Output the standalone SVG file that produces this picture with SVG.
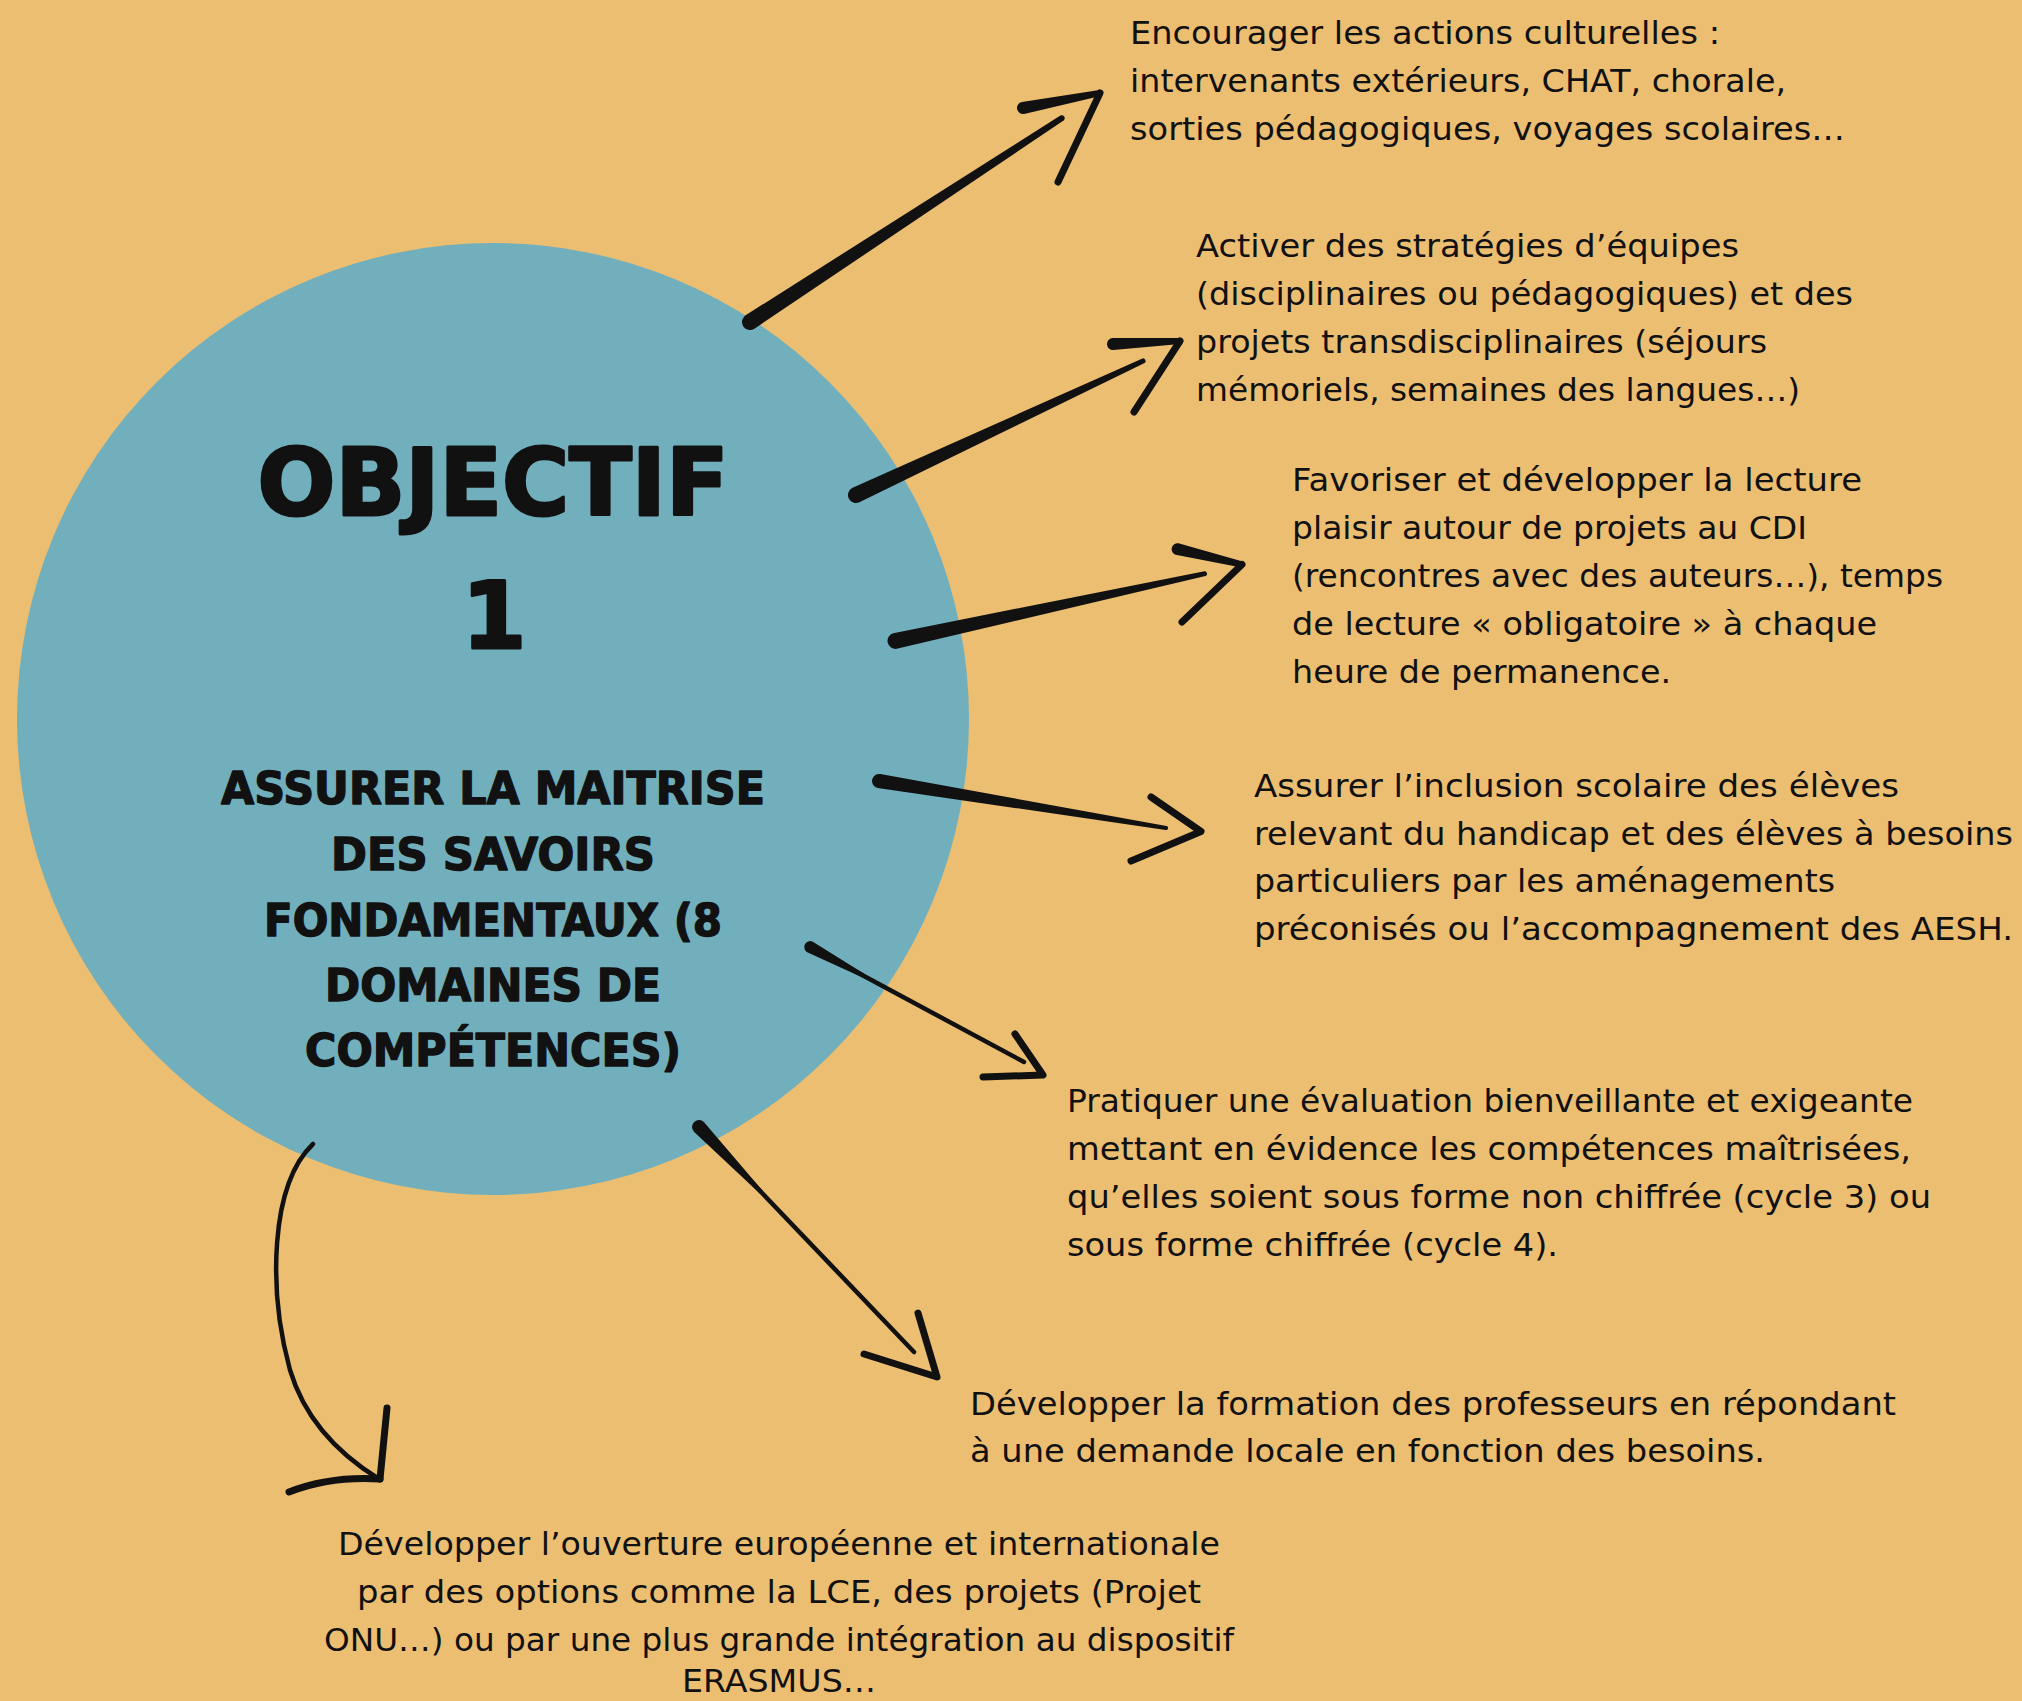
<svg xmlns="http://www.w3.org/2000/svg" width="2022" height="1701" viewBox="0 0 2022 1701">
<style>
.bg{fill:#ECBE72}
.disc{fill:#72AFBC}
.t{font-family:"DejaVu Sans","Liberation Sans",sans-serif;font-size:32px;fill:#111}
.h{font-family:"DejaVu Sans","Liberation Sans",sans-serif;font-weight:bold;fill:#111;stroke:#111;stroke-linejoin:round;text-anchor:middle}
.big{stroke-width:3}
.sub{stroke-width:1.4}
.ink{fill:#111}
.barb{fill:none;stroke:#111;stroke-width:7;stroke-linecap:round;stroke-linejoin:round}
.shaft{fill:none;stroke:#111;stroke-width:4.5;stroke-linecap:round}
.c{text-anchor:middle}
</style>
<rect class="bg" x="0" y="0" width="2022" height="1701"/>

<g id="objectif">
<circle class="disc" cx="493" cy="719" r="476"/>
<text class="h big" x="493" y="515" font-size="93" textLength="471" lengthAdjust="spacingAndGlyphs">OBJECTIF</text>
<text class="h big" x="494" y="648" font-size="93">1</text>
<text class="h sub" x="493" y="804" font-size="45" textLength="544" lengthAdjust="spacingAndGlyphs">ASSURER LA MAITRISE</text>
<text class="h sub" x="493" y="870" font-size="45" textLength="324" lengthAdjust="spacingAndGlyphs">DES SAVOIRS</text>
<text class="h sub" x="493" y="936" font-size="45" textLength="458" lengthAdjust="spacingAndGlyphs">FONDAMENTAUX (8</text>
<text class="h sub" x="493" y="1001" font-size="45" textLength="336" lengthAdjust="spacingAndGlyphs">DOMAINES DE</text>
<text class="h sub" x="493" y="1066" font-size="45" textLength="376" lengthAdjust="spacingAndGlyphs">COMPÉTENCES)</text>
</g>

<g id="connectors">
<path class="ink" d="M745.6,315.3 L1060.4,115.5 A3,3 0 0 1 1063.6,120.5 L754.4,328.7 A8,8 0 0 1 745.6,315.3 Z"/>
<path class="ink" d="M1021.9,102.1 L1099.4,90.1 A3,3 0 0 1 1100.6,95.9 L1024.1,113.9 A6,6 0 0 1 1021.9,102.1 Z"/>
<path class="barb" stroke-width="6" d="M1100,93 L1058,182"/>

<path class="ink" d="M852.6,487.75 L1141.9,358.7 A2.5,2.5 0 0 1 1144.1,363.3 L859.4,502.25 A8,8 0 0 1 852.6,487.75 Z"/>
<path class="ink" d="M1112.7,338 L1179.9,338 A3,3 0 0 1 1180.1,344 L1113.3,350 A6,6 0 0 1 1112.7,338 Z"/>
<path class="barb" stroke-width="6" d="M1180,341 L1134,412"/>

<path class="ink" d="M893.3,633.2 L1204.5,571.2 A2.5,2.5 0 0 1 1205.5,576 L896.7,648.8 A8,8 0 0 1 893.3,633.2 Z"/>
<path class="ink" d="M1178.4,543.2 L1242.7,561.6 A3,3 0 0 1 1241.3,567.4 L1175.6,554.8 A6,6 0 0 1 1178.4,543.2 Z"/>
<path class="barb" stroke-width="6" d="M1242,564.5 L1182,622"/>

<path class="ink" d="M880.3,774.1 L1166.4,826 A2,2 0 0 1 1165.6,830 L877.7,787.9 A7,7 0 0 1 880.3,774.1 Z"/>
<path class="barb" d="M1151,797 L1201,831.5 L1131,861"/>

<path class="ink" d="M812.8,941.7 L863.8,973.6 A2,2 0 0 1 862,977.2 L807.2,952.3 A6,6 0 0 1 812.8,941.7 Z"/>
<path class="shaft" stroke-width="3.5" d="M810,947 L1024,1062"/>
<path class="barb" stroke-width="6" d="M1015,1034 L1043,1075 L983,1077"/>

<path class="ink" d="M704.1,1122.2 L762.6,1190.7 A2,2 0 0 1 759.8,1193.5 L693.9,1131.8 A7,7 0 0 1 704.1,1122.2 Z"/>
<path class="shaft" d="M699,1127 L914,1352"/>
<path class="barb" d="M918,1313 L937,1377 L864,1354"/>

<path class="shaft" d="M313,1144 C270,1185 268,1290 290,1370 C305,1420 340,1455 379,1479"/>
<path class="barb" stroke-width="5" d="M380,1479 L387,1408"/>
<path class="barb" d="M289,1492 Q330,1476 380,1479"/>
</g>

<g id="n1">
<text class="t" x="1130" y="44" textLength="590" lengthAdjust="spacingAndGlyphs">Encourager les actions culturelles :</text>
<text class="t" x="1130" y="92" textLength="656" lengthAdjust="spacingAndGlyphs">intervenants extérieurs, CHAT, chorale,</text>
<text class="t" x="1130" y="140" textLength="715" lengthAdjust="spacingAndGlyphs">sorties pédagogiques, voyages scolaires…</text>
</g>
<g id="n2">
<text class="t" x="1196" y="257" textLength="543" lengthAdjust="spacingAndGlyphs">Activer des stratégies d’équipes</text>
<text class="t" x="1196" y="305" textLength="657" lengthAdjust="spacingAndGlyphs">(disciplinaires ou pédagogiques) et des</text>
<text class="t" x="1196" y="353" textLength="571" lengthAdjust="spacingAndGlyphs">projets transdisciplinaires (séjours</text>
<text class="t" x="1196" y="401" textLength="604" lengthAdjust="spacingAndGlyphs">mémoriels, semaines des langues…)</text>
</g>
<g id="n3">
<text class="t" x="1292" y="491" textLength="570" lengthAdjust="spacingAndGlyphs">Favoriser et développer la lecture</text>
<text class="t" x="1292" y="539" textLength="515" lengthAdjust="spacingAndGlyphs">plaisir autour de projets au CDI</text>
<text class="t" x="1292" y="587" textLength="651" lengthAdjust="spacingAndGlyphs">(rencontres avec des auteurs…), temps</text>
<text class="t" x="1292" y="635" textLength="585" lengthAdjust="spacingAndGlyphs">de lecture « obligatoire » à chaque</text>
<text class="t" x="1292" y="683" textLength="379" lengthAdjust="spacingAndGlyphs">heure de permanence.</text>
</g>
<g id="n4">
<text class="t" x="1254" y="797" textLength="645" lengthAdjust="spacingAndGlyphs">Assurer l’inclusion scolaire des élèves</text>
<text class="t" x="1254" y="845" textLength="759" lengthAdjust="spacingAndGlyphs">relevant du handicap et des élèves à besoins</text>
<text class="t" x="1254" y="892" textLength="581" lengthAdjust="spacingAndGlyphs">particuliers par les aménagements</text>
<text class="t" x="1254" y="940" textLength="759" lengthAdjust="spacingAndGlyphs">préconisés ou l’accompagnement des AESH.</text>
</g>
<g id="n5">
<text class="t" x="1067" y="1112" textLength="846" lengthAdjust="spacingAndGlyphs">Pratiquer une évaluation bienveillante et exigeante</text>
<text class="t" x="1067" y="1160" textLength="844" lengthAdjust="spacingAndGlyphs">mettant en évidence les compétences maîtrisées,</text>
<text class="t" x="1067" y="1208" textLength="864" lengthAdjust="spacingAndGlyphs">qu’elles soient sous forme non chiffrée (cycle 3) ou</text>
<text class="t" x="1067" y="1256" textLength="491" lengthAdjust="spacingAndGlyphs">sous forme chiffrée (cycle 4).</text>
</g>
<g id="n6">
<text class="t" x="970" y="1415" textLength="926" lengthAdjust="spacingAndGlyphs">Développer la formation des professeurs en répondant</text>
<text class="t" x="970" y="1462" textLength="795" lengthAdjust="spacingAndGlyphs">à une demande locale en fonction des besoins.</text>
</g>
<g id="n7">
<text class="t c" x="779" y="1555" textLength="882" lengthAdjust="spacingAndGlyphs">Développer l’ouverture européenne et internationale</text>
<text class="t c" x="779" y="1603" textLength="844" lengthAdjust="spacingAndGlyphs">par des options comme la LCE, des projets (Projet</text>
<text class="t c" x="779" y="1651" textLength="910" lengthAdjust="spacingAndGlyphs">ONU…) ou par une plus grande intégration au dispositif</text>
<text class="t c" x="779" y="1692" textLength="194" lengthAdjust="spacingAndGlyphs">ERASMUS…</text>
</g>
</svg>
